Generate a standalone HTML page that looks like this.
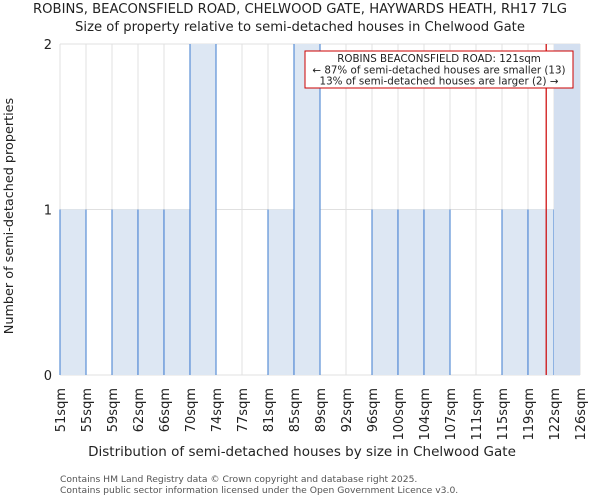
<!DOCTYPE html>
<html><head><meta charset="utf-8">
<style>
html,body{margin:0;padding:0;background:#fff;width:600px;height:500px;overflow:hidden}
text{font-family:"DejaVu Sans","Liberation Sans",sans-serif;fill:#222}
</style></head>
<body>
<svg id="chart" width="600" height="500" xmlns="http://www.w3.org/2000/svg">
<text x="300" y="13" text-anchor="middle" font-size="13.2">ROBINS, BEACONSFIELD ROAD, CHELWOOD GATE, HAYWARDS HEATH, RH17 7LG</text>
<text x="300" y="31" text-anchor="middle" font-size="13.2">Size of property relative to semi-detached houses in Chelwood Gate</text>
<g id="grid"></g>
<g id="bars"></g>
<g id="xlabels"></g>
<g id="ylabels"></g>
<text transform="translate(13,216) rotate(-90)" text-anchor="middle" font-size="12.8">Number of semi-detached properties</text>
<text x="302" y="456" text-anchor="middle" font-size="13.5">Distribution of semi-detached houses by size in Chelwood Gate</text>
<text x="60" y="482" font-size="9.2" fill="#555" style="fill:#555">Contains HM Land Registry data © Crown copyright and database right 2025.</text>
<text x="60" y="493" font-size="9.2" style="fill:#555">Contains public sector information licensed under the Open Government Licence v3.0.</text>
<g id="marker"></g>
</svg>
<script>
const binLabels = ["51sqm","55sqm","59sqm","62sqm","66sqm","70sqm","74sqm","77sqm","81sqm","85sqm","89sqm","92sqm","96sqm","100sqm","104sqm","107sqm","111sqm","115sqm","119sqm","122sqm","126sqm"];
const counts = [1,0,1,1,1,2,0,0,1,2,0,0,1,1,1,0,0,1,1,2];
const highlight = [0,0,0,0,0,0,0,0,0,0,0,0,0,0,0,0,0,0,0,1];
const yTicks = [0,1,2];
const markerPos = 18.7; // bin-index position of 121sqm
const NS="http://www.w3.org/2000/svg";
const L=60,R=580,T=44,B=375;
const bw=(R-L)/counts.length;
const x=i=>L+i*bw;
const y=v=>B-(B-T)*v/2;
function mk(tag,attrs,parent){const e=document.createElementNS(NS,tag);for(const k in attrs)e.setAttribute(k,attrs[k]);parent.appendChild(e);return e;}
const grid=document.getElementById('grid'),bars=document.getElementById('bars'),xl=document.getElementById('xlabels'),yl=document.getElementById('ylabels');
for(let i=0;i<=counts.length;i++){
  const g=mk('line',{x1:x(i),x2:x(i),y1:T,y2:B,stroke:'#e0e0e0','stroke-width':1},grid);
  
  
}
yTicks.forEach(v=>{
  const g=mk('line',{x1:L,x2:R,y1:y(v),y2:y(v),stroke:'#e0e0e0','stroke-width':1},grid);
  
  
  const t=mk('text',{x:L-8,y:y(v)+5,'text-anchor':'end','font-size':13},yl);
  t.textContent=v;
  
  
});
counts.forEach((c,i)=>{
  if(c<=0)return;
  const hl=highlight[i];
  const r=mk('rect',{x:x(i),y:y(c),width:bw,height:B-y(c),fill:hl?'#d3dff0':'#dde7f3'},bars);
  
  
  if(!hl){
    [x(i),x(i)+bw].forEach(xx=>{mk('line',{x1:xx,x2:xx,y1:y(c),y2:B,stroke:'#5b8fd6','stroke-width':1.2},bars);});
  }
});
binLabels.forEach((lab,i)=>{
  const t=mk('text',{transform:`translate(${x(i)+5},388) rotate(-90)`,'text-anchor':'end','font-size':13},xl);
  t.textContent=lab;
  
  
});
const m=document.getElementById('marker');
const mx=x(markerPos);
const ml=mk('line',{x1:mx,x2:mx,y1:T,y2:B,stroke:'#cc0000','stroke-width':1.2},m);


const box=mk('rect',{x:305,y:51,width:268,height:37,fill:'#fff',stroke:'#cc0000','stroke-width':1},m);


["ROBINS BEACONSFIELD ROAD: 121sqm","← 87% of semi-detached houses are smaller (13)","13% of semi-detached houses are larger (2) →"].forEach((s,k)=>{
  const t=mk('text',{x:439,y:62+k*11.3,'text-anchor':'middle','font-size':10.3},m);
  t.textContent=s;
  
  
});
</script>
</body></html>
